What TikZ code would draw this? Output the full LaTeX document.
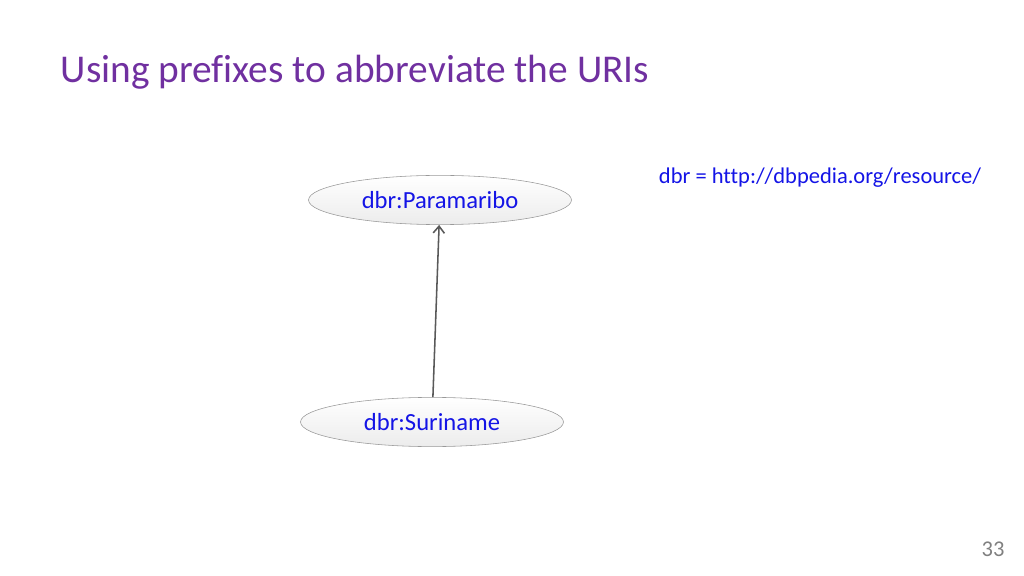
\documentclass[tikz,border=0pt]{standalone}
\usepackage{fontspec}
\setmainfont{Carlito}[Ligatures={NoCommon}]
\usetikzlibrary{shapes.geometric,arrows.meta}
\definecolor{titlepurple}{RGB}{112,48,160}
\definecolor{linkblue}{RGB}{20,20,230}
\tikzset{
  resnode/.style={ellipse, draw=gray!80, thin, top color=white, bottom color=gray!15,
    minimum width=187pt, minimum height=35pt, inner sep=0pt,
    font=\fontsize{17.5}{21}\selectfont, text=linkblue},
  relarrow/.style={draw=gray!70!black, line width=1.1pt, -{Straight Barb[length=5pt,width=8pt]}}
}
\begin{document}
\begin{tikzpicture}[x=0.025cm,y=-0.025cm]
\useasboundingbox (0,0) rectangle (1024,576);
\node[anchor=west, text=titlepurple, font=\fontsize{28}{33}\selectfont] (title) at (56,72) {Using prefixes to abbreviate the URIs};
\node[resnode] (paramaribo) at (440,200) {dbr:Paramaribo};
\node[resnode] (suriname) at (432,422) {dbr:Suriname};
\draw[relarrow] (suriname) -- (paramaribo);
\node[anchor=west, text=linkblue, font=\fontsize{16}{19}\selectfont] (prefix) at (654,178) {dbr = http://dbpedia.org/resource/};
\node[text=gray, font=\fontsize{16}{19}\selectfont] (pagenum) at (993,549) {33};
\end{tikzpicture}
\end{document}
